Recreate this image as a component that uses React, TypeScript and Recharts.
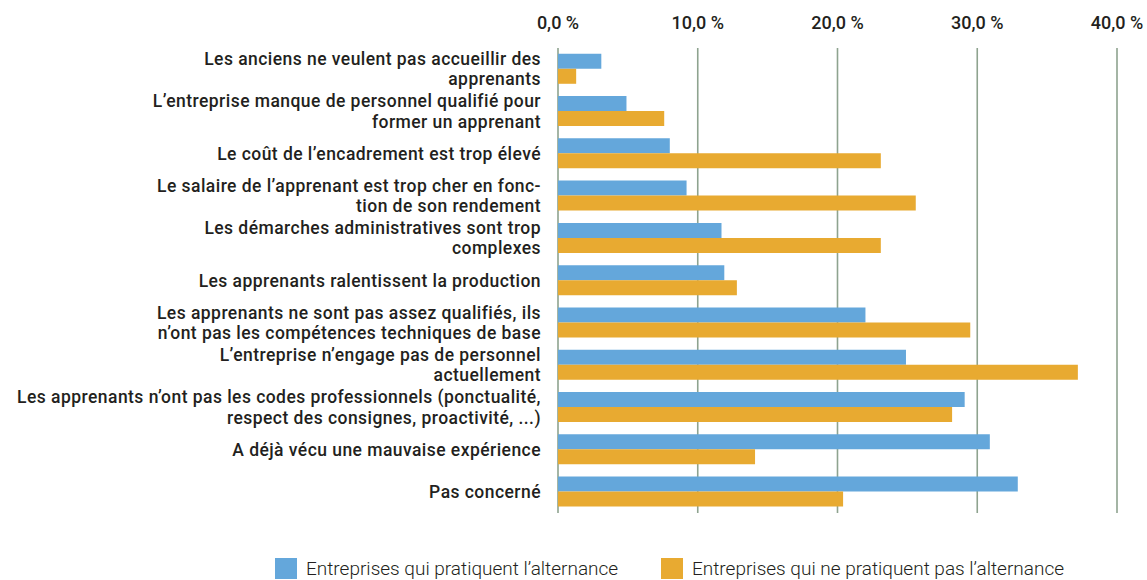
import React from 'react';
import { BarChart, Bar, XAxis, YAxis, CartesianGrid, Legend } from 'recharts';

// categories, top to bottom (line breaks as in the original figure)
const categories = [
  'Les anciens ne veulent pas accueillir des\napprenants',
  'L\u2019entreprise manque de personnel qualifié pour\nformer un apprenant',
  'Le coût de l\u2019encadrement est trop élevé',
  'Le salaire de l\u2019apprenant est trop cher en fonc-\ntion de son rendement',
  'Les démarches administratives sont trop\ncomplexes',
  'Les apprenants ralentissent la production',
  'Les apprenants ne sont pas assez qualifiés, ils\nn\u2019ont pas les compétences techniques de base',
  'L\u2019entreprise n\u2019engage pas de personnel\nactuellement',
  'Les apprenants n\u2019ont pas les codes professionnels (ponctualité,\nrespect des consignes, proactivité, ...)',
  'A déjà vécu une mauvaise expérience',
  'Pas concerné',
];

const pratiquent = [3.1, 4.9, 8.0, 9.2, 11.7, 11.9, 22.0, 24.9, 29.1, 30.9, 32.9];
const nePratiquentPas = [1.3, 7.6, 23.1, 25.6, 23.1, 12.8, 29.5, 37.2, 28.2, 14.1, 20.4];

const xTicks = [0, 10, 20, 30, 40];

const seriesNames = [
  'Entreprises qui pratiquent l\u2019alternance',
  'Entreprises qui ne pratiquent pas l\u2019alternance',
];

const BLUE = '#64A7DB';
const ORANGE = '#E8AA31';
const TEXT = '#231f20';
const FONT = 'Roboto, "Noto Sans", sans-serif';

const data = categories.map((label, i) => ({
  label,
  a: pratiquent[i],
  b: nePratiquentPas[i],
}));

const fmt = (v: number) => `${v.toFixed(1).replace('.', ',')} %`;

const CategoryTick = (props: any) => {
  const { y, payload } = props;
  const lines: string[] = String(payload.value).split('\n');
  const lh = 20.5;
  const first = y - ((lines.length - 1) * lh) / 2 + 6;
  return (
    <text
      x={541}
      y={first}
      textAnchor="end"
      fill={TEXT}
      fontSize={17.5}
      fontWeight={500}
      letterSpacing={0.45}
      fontFamily={FONT}
    >
      {lines.map((l, i) => (
        <tspan key={i} x={541} y={first + i * lh}>
          {l}
        </tspan>
      ))}
    </text>
  );
};

const ValueTick = (props: any) => {
  const { x, payload } = props;
  return (
    <text x={x} y={29} textAnchor="middle" fill={TEXT} fontSize={18} fontWeight={500} fontFamily={FONT}>
      {fmt(payload.value)}
    </text>
  );
};

const legendLefts = [275, 661];

const renderLegend = (props: any) => {
  const items = [...(props.payload || [])].sort(
    (p: any, q: any) => seriesNames.indexOf(p.value) - seriesNames.indexOf(q.value)
  );
  return (
    <div style={{ position: 'relative', height: 22, width: 1147 }}>
      {items.map((it: any, i: number) => (
        <div key={i} style={{ position: 'absolute', left: legendLefts[i], top: 0, display: 'flex', alignItems: 'center' }}>
          <span style={{ display: 'inline-block', width: 22, height: 21, background: it.color }} />
          <span style={{ marginLeft: 9, fontFamily: FONT, fontSize: 19, fontWeight: 300, color: TEXT, lineHeight: '21px' }}>
            {it.value}
          </span>
        </div>
      ))}
    </div>
  );
};

export default function App() {
  return (
    <div style={{ position: 'absolute', left: 0, top: 0, width: 1147, height: 580, background: '#fff' }}>
      <BarChart
        width={1147}
        height={580}
        data={data}
        layout="vertical"
        margin={{ top: 18, right: 30, bottom: 67, left: 0 }}
        barCategoryGap="13.7%"
        barGap={0}
      >
        <CartesianGrid horizontal={false} stroke="#8ea38f" strokeWidth={1.6} />
        <XAxis
          type="number"
          orientation="top"
          domain={[0, 40]}
          ticks={xTicks}
          height={30}
          axisLine={false}
          tickLine={false}
          tick={<ValueTick />}
          interval={0}
        />
        <YAxis
          type="category"
          dataKey="label"
          width={558}
          axisLine={false}
          tickLine={false}
          tick={<CategoryTick />}
          interval={0}
        />
        <Legend
          layout="horizontal"
          verticalAlign="middle"
          align="center"
          wrapperStyle={{ top: 558, left: 0, width: 1147 }}
          content={renderLegend}
        />
        <Bar dataKey="a" name={seriesNames[0]} fill={BLUE} isAnimationActive={false} />
        <Bar dataKey="b" name={seriesNames[1]} fill={ORANGE} isAnimationActive={false} />
      </BarChart>
    </div>
  );
}
